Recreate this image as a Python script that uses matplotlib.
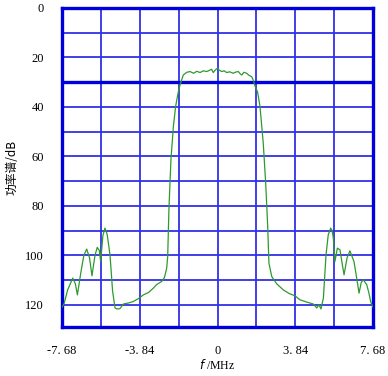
import matplotlib
matplotlib.use("Agg")
import matplotlib.pyplot as plt
import numpy as np

freq_mhz = [-7.68, -7.58, -7.4, -7.15, -7.02, -6.92, -6.75, -6.6, -6.46, -6.32, -6.20, -6.05,
            -5.94, -5.84, -5.77, -5.66, -5.56, -5.45, -5.31, -5.18, -5.06, -4.98, -4.82, -4.65,
            -4.40, -4.16, -3.90, -3.66, -3.40, -3.17, -3.00, -2.76, -2.62, -2.51, -2.46, -2.40,
            -2.30, -2.18, -2.07, -1.95, -1.85, -1.69, -1.52, -1.35, -1.19, -1.02, -0.86, -0.70,
            -0.53, -0.40, -0.29, -0.21, -0.10, -0.01, 0.10, 0.21, 0.33, 0.45, 0.60, 0.78,
            0.90, 1.03, 1.12, 1.20, 1.30, 1.44, 1.55, 1.69, 1.78, 1.85, 1.98, 2.10,
            2.26, 2.38, 2.48, 2.54, 2.68, 2.92, 3.25, 3.55, 3.83, 4.07, 4.40, 4.73,
            4.90, 5.01, 5.11, 5.23, 5.36, 5.47, 5.59, 5.66, 5.72, 5.80, 5.92, 6.05,
            6.15, 6.25, 6.40, 6.54, 6.74, 6.87, 6.99, 7.10, 7.20, 7.37, 7.47, 7.57, 7.68]
power_db = [121.0, 119.6, 114.0, 109.2, 111.5, 116.0, 107.0, 100.0, 97.5, 101.0, 108.3, 100.0,
            96.8, 98.0, 102.5, 92.0, 89.0, 91.5, 99.8, 114.6, 121.3, 121.7, 121.6, 119.7,
            119.3, 118.7, 117.5, 116.0, 115.0, 113.3, 111.8, 110.6, 109.0, 105.2, 100.5, 81.6,
            61.4, 48.0, 39.9, 34.5, 31.1, 27.1, 26.0, 25.7, 26.4, 25.6, 26.1, 25.4,
            25.7, 25.2, 24.8, 26.1, 25.0, 24.4, 25.2, 25.7, 25.4, 26.1, 25.8, 26.4,
            25.9, 25.7, 26.6, 27.1, 26.0, 26.4, 27.2, 27.8, 29.5, 31.5, 34.0, 39.9,
            54.7, 70.8, 88.4, 103.2, 108.6, 111.5, 114.0, 115.5, 116.4, 118.0, 118.9, 119.7,
            121.3, 120.0, 121.7, 117.3, 99.8, 91.7, 89.0, 90.0, 93.0, 102.5, 97.1, 97.8,
            103.0, 107.9, 101.0, 98.2, 102.5, 109.0, 115.3, 111.0, 109.9, 111.9, 115.0, 118.9, 121.0]

xtick_vals = [-7.68, -3.84, 0, 3.84, 7.68]
xtick_labels = ["-7. 68", "-3. 84", "0", "3. 84", "7. 68"]
ytick_vals = [0, 20, 40, 60, 80, 100, 120]

fig = plt.figure(figsize=(3.88, 3.76), dpi=100)
ax = fig.add_axes([62/388, 1-327/376, (373-62)/388, (327-8)/376])

grid_c = "#3030e8"
border_c = "#0000dd"
for i in range(1, 8):
    ax.axvline(-7.68 + 1.92*i, color=grid_c, lw=1.3, zorder=1)
for v in range(10, 130, 10):
    if v == 30:
        ax.axhline(v, color=border_c, lw=2.4, zorder=1)
    else:
        ax.axhline(v, color=grid_c, lw=1.3, zorder=1)

ax.plot(freq_mhz, power_db, color="#2e9a2e", lw=0.9, zorder=3)

ax.set_xlim(-7.68, 7.68)
ax.set_ylim(129, 0)
for s in ax.spines.values():
    s.set_color(border_c)
    s.set_linewidth(2.4)

ax.set_xticks(xtick_vals)
ax.set_xticklabels(xtick_labels)
ax.set_yticks(ytick_vals)
ax.tick_params(length=0, labelsize=9, pad=13)
for t in ax.get_xticklabels() + ax.get_yticklabels():
    t.set_fontfamily("Liberation Serif")

ax.set_ylabel("功率谱/dB", fontsize=8.5, family=["Noto Sans CJK SC", "DejaVu Sans"])
ax.yaxis.label.set_va("center")
ax.yaxis.set_label_coords(-0.161, 0.5)
ax.set_xlabel(r"$\it{f}$ /MHz", fontsize=8.5, family=["Liberation Serif"])
ax.xaxis.label.set_va("center")
ax.xaxis.set_label_coords(0.5, -0.118)

fig.savefig("out.png", dpi=100)
